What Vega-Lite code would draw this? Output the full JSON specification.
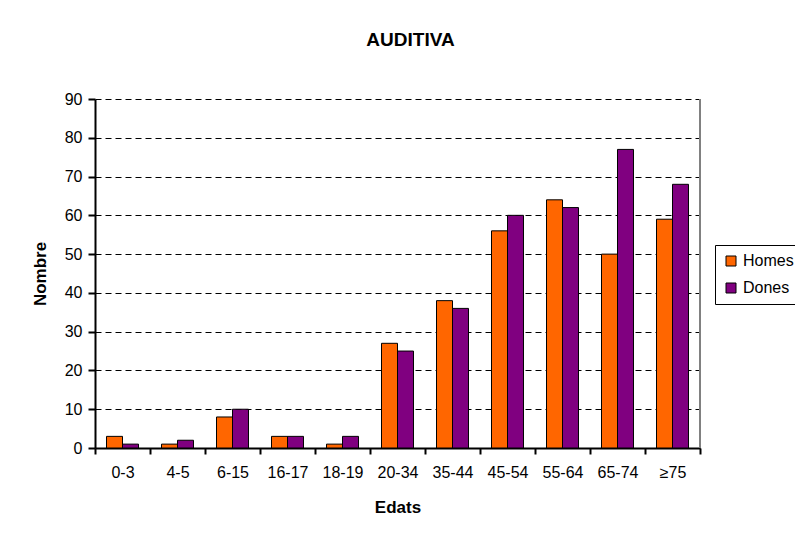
{
  "$schema": "https://vega.github.io/schema/vega-lite/v6.json",
  "width": 605,
  "height": 349,
  "autosize": {"type": "none"},
  "padding": {"left": 95, "top": 99, "right": 95, "bottom": 85},
  "background": "white",
  "config": {
    "font": "Liberation Sans",
    "view": {"stroke": null},
    "axis": {"labelFont": "Liberation Sans", "titleFont": "Liberation Sans", "labelColor": "black", "titleColor": "black"}
  },
  "title": {
    "text": "AUDITIVA",
    "fontSize": 19,
    "fontWeight": "bold",
    "font": "Liberation Sans",
    "color": "black",
    "offset": 41,
    "dx": 13
  },
  "data": {
    "values": [
      {"edat": "0-3", "sexe": "Homes", "n": 3},
      {"edat": "0-3", "sexe": "Dones", "n": 1},
      {"edat": "4-5", "sexe": "Homes", "n": 1},
      {"edat": "4-5", "sexe": "Dones", "n": 2},
      {"edat": "6-15", "sexe": "Homes", "n": 8},
      {"edat": "6-15", "sexe": "Dones", "n": 10},
      {"edat": "16-17", "sexe": "Homes", "n": 3},
      {"edat": "16-17", "sexe": "Dones", "n": 3},
      {"edat": "18-19", "sexe": "Homes", "n": 1},
      {"edat": "18-19", "sexe": "Dones", "n": 3},
      {"edat": "20-34", "sexe": "Homes", "n": 27},
      {"edat": "20-34", "sexe": "Dones", "n": 25},
      {"edat": "35-44", "sexe": "Homes", "n": 38},
      {"edat": "35-44", "sexe": "Dones", "n": 36},
      {"edat": "45-54", "sexe": "Homes", "n": 56},
      {"edat": "45-54", "sexe": "Dones", "n": 60},
      {"edat": "55-64", "sexe": "Homes", "n": 64},
      {"edat": "55-64", "sexe": "Dones", "n": 62},
      {"edat": "65-74", "sexe": "Homes", "n": 50},
      {"edat": "65-74", "sexe": "Dones", "n": 77},
      {"edat": "≥75", "sexe": "Homes", "n": 59},
      {"edat": "≥75", "sexe": "Dones", "n": 68}
    ]
  },
  "layer": [
    {
      "mark": {"type": "bar", "stroke": "black", "strokeWidth": 1},
      "encoding": {
        "x": {
          "field": "edat",
          "type": "nominal",
          "sort": null,
          "scale": {"paddingInner": 0, "paddingOuter": 0},
          "axis": {
            "title": "Edats",
            "titleFontSize": 17,
            "titleFontWeight": "bold",
            "titlePadding": 19,
            "labelAngle": 0,
            "labelFontSize": 16,
            "labelPadding": 10,
            "tickBand": "extent",
            "tickSize": 6,
            "tickWidth": 2,
            "tickColor": "black",
            "domainColor": "black",
            "domainWidth": 2,
            "grid": false
          }
        },
        "xOffset": {
          "field": "sexe",
          "type": "nominal",
          "sort": ["Homes", "Dones"],
          "scale": {"paddingInner": 0, "paddingOuter": 0.72}
        },
        "y": {
          "field": "n",
          "type": "quantitative",
          "scale": {"domain": [0, 90], "nice": false},
          "axis": {
            "title": "Nombre",
            "titleFontSize": 17,
            "titleFontWeight": "bold",
            "titlePadding": 15,
            "values": [0, 10, 20, 30, 40, 50, 60, 70, 80, 90],
            "labelFontSize": 16,
            "labelPadding": 6,
            "tickSize": 7,
            "tickWidth": 2,
            "tickColor": "black",
            "domainColor": "black",
            "domainWidth": 2,
            "grid": true,
            "gridColor": "black",
            "gridDash": [6, 4],
            "gridWidth": 1
          }
        },
        "color": {
          "field": "sexe",
          "type": "nominal",
          "sort": ["Homes", "Dones"],
          "scale": {"domain": ["Homes", "Dones"], "range": ["#FF6600", "#800080"]},
          "legend": {
            "title": null,
            "orient": "none",
            "legendX": 620,
            "legendY": 146,
            "strokeColor": "black",
            "padding": 8,
            "symbolType": "square",
            "symbolSize": 100,
            "symbolStrokeColor": "black",
            "symbolStrokeWidth": 1,
            "symbolOpacity": 1,
            "labelFontSize": 16,
            "labelColor": "black",
            "labelFont": "Liberation Sans",
            "rowPadding": 11
          }
        }
      }
    },
    {
      "mark": {"type": "rule", "color": "#808080", "strokeWidth": 1},
      "encoding": {
        "x": {
          "datum": "≥75",
          "type": "nominal",
          "bandPosition": 1,
          "axis": {
            "title": "Edats",
            "titleFontSize": 17,
            "titleFontWeight": "bold",
            "titlePadding": 19,
            "labelAngle": 0,
            "labelFontSize": 16,
            "labelPadding": 10,
            "tickBand": "extent",
            "tickSize": 6,
            "tickWidth": 2,
            "tickColor": "black",
            "domainColor": "black",
            "domainWidth": 2,
            "grid": false
          }
        },
        "y": {
          "datum": 0,
          "type": "quantitative",
          "axis": {
            "title": "Nombre",
            "titleFontSize": 17,
            "titleFontWeight": "bold",
            "titlePadding": 15,
            "values": [0, 10, 20, 30, 40, 50, 60, 70, 80, 90],
            "labelFontSize": 16,
            "labelPadding": 6,
            "tickSize": 7,
            "tickWidth": 2,
            "tickColor": "black",
            "domainColor": "black",
            "domainWidth": 2,
            "grid": true,
            "gridColor": "black",
            "gridDash": [6, 4],
            "gridWidth": 1
          }
        },
        "y2": {"datum": 90}
      }
    }
  ]
}
